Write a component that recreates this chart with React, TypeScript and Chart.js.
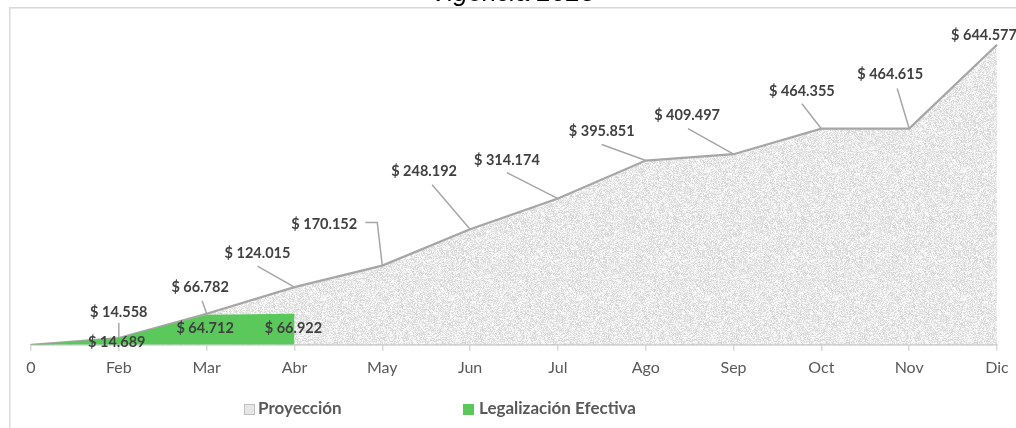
import React, { useEffect, useRef } from "react";
import { Chart, registerables } from "chart.js";

Chart.register(...registerables);

const categories = ["0", "Feb", "Mar", "Abr", "May", "Jun", "Jul", "Ago", "Sep", "Oct", "Nov", "Dic"];
const proyeccion = [0, 14558, 66782, 124015, 170152, 248192, 314174, 395851, 409497, 464355, 464615, 644577];
const legalizacion = [0, 14689, 64712, 66922, null, null, null, null, null, null, null, null];
const seriesNames = ["Proyección", "Legalización Efectiva"];
const titleText = "Vigencia 2023";

// label placement (style only): [dx, dy] from point, and leader path relative to label center
const projLabelOffsets: [number, number][] = [
  [0, 0], [0, -26], [-6.5, -26], [-37, -34], [-58, -41], [-46, -57.5],
  [-51, -38], [-44, -29], [-46.5, -38.5], [-19.5, -37.5], [-19, -54], [-13, -9],
];
const projLeaders: ([number, number][] | null)[] = [
  null, [[0, 11]], [[2, 13]], [[0, 13]], [[41, -2], [53, -2]], [[8, 13]],
  [[0, 12]], [[0, 13]], [[1, 13]], [[0, 12.5]], [[7, 14]], null,
];
const legLabelOffsets: [number, number][] = [
  [0, 0], [-2, 4], [-1.5, 14], [-1, 15],
];

const fmt = (v: number) => "$ " + v.toLocaleString("de-DE");

function makePattern(): CanvasPattern | string {
  const size = 128;
  const a = document.createElement("canvas");
  a.width = size;
  a.height = size;
  const g = a.getContext("2d");
  if (!g) return "#ededed";
  const hash = (x: number, y: number) => {
    let h = (x * 374761393 + y * 668265263) | 0;
    h = Math.imul(h ^ (h >>> 13), 1274126177);
    h = h ^ (h >>> 16);
    return ((h >>> 0) % 1000) / 1000;
  };
  for (let y = 0; y < size; y++) {
    for (let x = 0; x < size; x++) {
      const r = hash(x, y);
      const v = Math.round(212 + r * 43);
      g.fillStyle = `rgb(${v},${v},${v})`;
      g.fillRect(x, y, 1, 1);
    }
  }
  const b = document.createElement("canvas");
  b.width = size;
  b.height = size;
  const gb = b.getContext("2d");
  if (!gb) return g.createPattern(a, "repeat") || "#ededed";
  gb.fillStyle = "#ececec";
  gb.fillRect(0, 0, size, size);
  gb.filter = "blur(0.6px)";
  for (let dx = -1; dx <= 1; dx++) {
    for (let dy = -1; dy <= 1; dy++) {
      gb.drawImage(a, dx * size, dy * size);
    }
  }
  return gb.createPattern(b, "repeat") || "#ededed";
}

export default function App() {
  const ref = useRef<HTMLCanvasElement | null>(null);

  useEffect(() => {
    if (!ref.current) return;
    const pattern = makePattern();

    const decor = {
      id: "decor",
      beforeDraw(chart: any) {
        const ctx = chart.ctx;
        ctx.save();
        ctx.strokeStyle = "#d9d9d9";
        ctx.lineWidth = 1.5;
        ctx.beginPath();
        ctx.moveTo(9.75, 440);
        ctx.lineTo(9.75, 7.75);
        ctx.lineTo(1030, 7.75);
        ctx.stroke();
        ctx.fillStyle = "#000000";
        ctx.font = "italic 26px 'Liberation Sans', Arial, sans-serif";
        ctx.textAlign = "center";
        ctx.textBaseline = "alphabetic";
        ctx.fillText(titleText, 513, 1);
        ctx.restore();
      },
      afterDatasetsDraw(chart: any) {
        const ctx = chart.ctx;
        const xs = chart.scales.x;
        const ys = chart.scales.y;
        ctx.save();
        ctx.font = "bold 14.5px Lato, 'Open Sans', sans-serif";
        ctx.textAlign = "center";
        ctx.textBaseline = "middle";
        ctx.strokeStyle = "#a6a6a6";
        ctx.lineWidth = 1.5;
        proyeccion.forEach((v, i) => {
          const path = projLeaders[i];
          if (!path) return;
          const px = xs.getPixelForValue(i);
          const py = ys.getPixelForValue(v);
          const lx = px + projLabelOffsets[i][0];
          const ly = py + projLabelOffsets[i][1];
          ctx.beginPath();
          ctx.moveTo(lx + path[0][0], ly + path[0][1]);
          for (let k = 1; k < path.length; k++) ctx.lineTo(lx + path[k][0], ly + path[k][1]);
          ctx.lineTo(px, py);
          ctx.stroke();
        });
        ctx.fillStyle = "#404040";
        proyeccion.forEach((v, i) => {
          if (i === 0) return;
          const px = xs.getPixelForValue(i);
          const py = ys.getPixelForValue(v);
          ctx.fillText(fmt(v), px + projLabelOffsets[i][0], py + projLabelOffsets[i][1]);
        });
        legalizacion.forEach((v, i) => {
          if (i === 0 || v === null) return;
          const px = xs.getPixelForValue(i);
          const py = ys.getPixelForValue(v);
          ctx.fillText(fmt(v), px + legLabelOffsets[i][0], py + legLabelOffsets[i][1]);
        });
        // legend
        ctx.font = "bold 17px Lato, 'Open Sans', sans-serif";
        ctx.textAlign = "left";
        ctx.fillStyle = "#e6e6e6";
        ctx.fillRect(244, 404, 10, 10);
        ctx.strokeStyle = "#bfbfbf";
        ctx.lineWidth = 1;
        ctx.strokeRect(244.5, 404.5, 10, 10);
        ctx.fillStyle = "#595959";
        ctx.fillText(seriesNames[0], 258, 409);
        ctx.fillStyle = "#5ac85a";
        ctx.fillRect(463, 404, 11, 11);
        ctx.fillStyle = "#595959";
        ctx.fillText(seriesNames[1], 479, 409);
        ctx.restore();
      },
    };

    const chart = new Chart(ref.current, {
      type: "line",
      data: {
        labels: categories,
        datasets: [
          {
            label: seriesNames[1],
            data: legalizacion,
            fill: "origin",
            backgroundColor: "#5ac85a",
            borderWidth: 0,
            borderColor: "#5ac85a",
            pointRadius: 0,
            tension: 0,
            order: 0,
          },
          {
            label: seriesNames[0],
            data: proyeccion,
            fill: "origin",
            backgroundColor: pattern as any,
            borderColor: "#a6a6a6",
            borderWidth: 2.25,
            pointRadius: 0,
            tension: 0,
            order: 1,
          },
        ],
      },
      options: {
        responsive: false,
        animation: false,
        layout: { padding: { left: 31, right: 19, top: 19, bottom: 44 } },
        plugins: {
          legend: { display: false },
          title: { display: false },
          tooltip: { enabled: false },
        },
        scales: {
          x: {
            offset: false,
            grid: {
              display: true,
              drawOnChartArea: false,
              drawTicks: true,
              tickLength: 6,
              color: "#d9d9d9",
              lineWidth: 1.5,
            },
            border: { display: true, color: "#bfbfbf", width: 1.5 },
            ticks: {
              color: "#595959",
              font: { family: "Lato, 'Open Sans', sans-serif", size: 16 },
              padding: 7,
              maxRotation: 0,
              autoSkip: false,
            },
          },
          y: {
            display: false,
            min: 0,
            max: 700000,
          },
        },
      },
      plugins: [decor],
    });
    return () => chart.destroy();
  }, []);

  return (
    <div style={{ position: "fixed", left: 0, top: 0, width: 1016, height: 428, background: "#ffffff" }}>
      <canvas ref={ref} width={1016} height={428} style={{ display: "block" }} />
    </div>
  );
}
